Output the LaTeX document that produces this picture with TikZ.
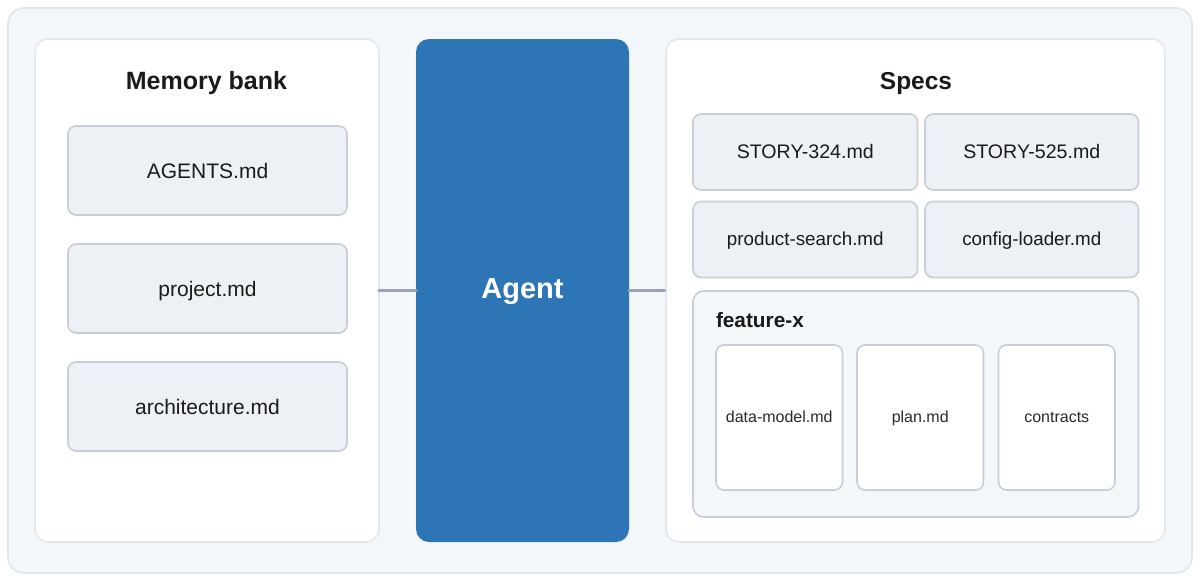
\documentclass[tikz,border=0pt]{standalone}
\usepackage{fontspec}
\setmainfont{Liberation Sans}
\definecolor{ink}{HTML}{1A1A1A}
\definecolor{leafink}{HTML}{2A2A2A}
\definecolor{outerfill}{HTML}{F4F7FA}
\definecolor{outerline}{HTML}{E2E6EC}
\definecolor{panelline}{HTML}{E4E7ED}
\definecolor{filefill}{HTML}{EDF1F6}
\definecolor{fileline}{HTML}{C8CED9}
\definecolor{agentblue}{HTML}{2E75B6}
\definecolor{linkgrey}{HTML}{9AA3B3}
\tikzset{
  x=1pt,y=-1pt,
  base/.style={inner sep=0pt,outer sep=0pt,align=center,text=ink,text depth=0pt},
  outerbox/.style={base,draw=outerline,fill=outerfill,line width=1.6pt,rounded corners=16pt},
  panel/.style={base,draw=panelline,fill=white,line width=1.6pt,rounded corners=13pt},
  agentbox/.style={base,fill=agentblue,text=white,rounded corners=13pt,text height=15pt,font=\bfseries\fontsize{29}{34}\selectfont},
  filebox/.style={base,draw=fileline,fill=filefill,line width=1.6pt,rounded corners=8pt},
  group/.style={base,draw=fileline,fill=outerfill,line width=1.6pt,rounded corners=11pt},
  leaf/.style={base,draw=fileline,fill=white,line width=1.6pt,rounded corners=8pt,text=leafink,text height=9.5pt,font=\fontsize{16}{20}\selectfont},
  bigfile/.style={filebox,text height=15.2pt,font=\fontsize{21}{26}\selectfont},
  story/.style={filebox,text height=12pt,font=\fontsize{19.6}{24}\selectfont},
  slug/.style={filebox,text height=11.5pt,font=\fontsize{18.8}{23}\selectfont},
  title/.style={base,text height=18pt,font=\bfseries\fontsize{25}{30}\selectfont},
  specstitlestyle/.style={base,text height=18pt,font=\bfseries\fontsize{24.5}{30}\selectfont},
  subtitle/.style={base,anchor=west,text height=15pt,font=\bfseries\fontsize{20.8}{25}\selectfont},
  link/.style={draw=linkgrey,line width=3.5pt,line cap=round},
}
% \bx{style}{name}{x0}{y0}{x1}{y1}{text}
\newcommand{\bx}[7]{%
  \pgfmathsetmacro{\cxx}{(#3+#5)/2}%
  \pgfmathsetmacro{\cyy}{(#4+#6)/2}%
  \pgfmathsetmacro{\wdd}{#5-#3}%
  \pgfmathsetmacro{\htt}{#6-#4}%
  \node[#1,minimum width=\wdd pt,minimum height=\htt pt] (#2) at (\cxx,\cyy) {#7};%
}
\begin{document}
\begin{tikzpicture}
\useasboundingbox[fill=white] (0,0) rectangle (1200,581);
\bx{outerbox}{outer}{8}{8}{1192}{573}{}
\bx{panel}{mem}{35}{39}{379}{542}{}
\bx{panel}{specs}{666}{39}{1165}{542}{}
\bx{agentbox}{agent}{416}{39}{629}{542}{Agent}
\node[title] (memtitle) at (206.5,80) {Memory bank};
\node[specstitlestyle] (specstitle) at (916,80) {Specs};
\bx{bigfile}{agents}{68}{126}{347}{215}{AGENTS.md}
\bx{bigfile}{project}{68}{244}{347}{333}{project.md}
\bx{bigfile}{arch}{68}{362}{347}{451}{architecture.md}
\bx{story}{s324}{693}{114}{917.5}{190}{STORY-324.md}
\bx{story}{s525}{925}{114}{1138.5}{190}{STORY-525.md}
\bx{slug}{psearch}{693}{201.5}{917.5}{277.5}{product-search.md}
\bx{slug}{cloader}{925}{201.5}{1138.5}{277.5}{config-loader.md}
\bx{group}{feature}{693}{291}{1138.5}{517}{}
\node[subtitle] (featuretitle) at (716,320) {feature-x};
\bx{leaf}{dm}{716}{345}{842.5}{490}{data-model.md}
\bx{leaf}{plan}{857}{345}{983.5}{490}{plan.md}
\bx{leaf}{contracts}{998.5}{345}{1115}{490}{contracts}
\draw[link] (mem.east) -- (agent.west);
\draw[link,shorten >=1.5pt] (agent.east) -- (specs.west);
\end{tikzpicture}
\end{document}
